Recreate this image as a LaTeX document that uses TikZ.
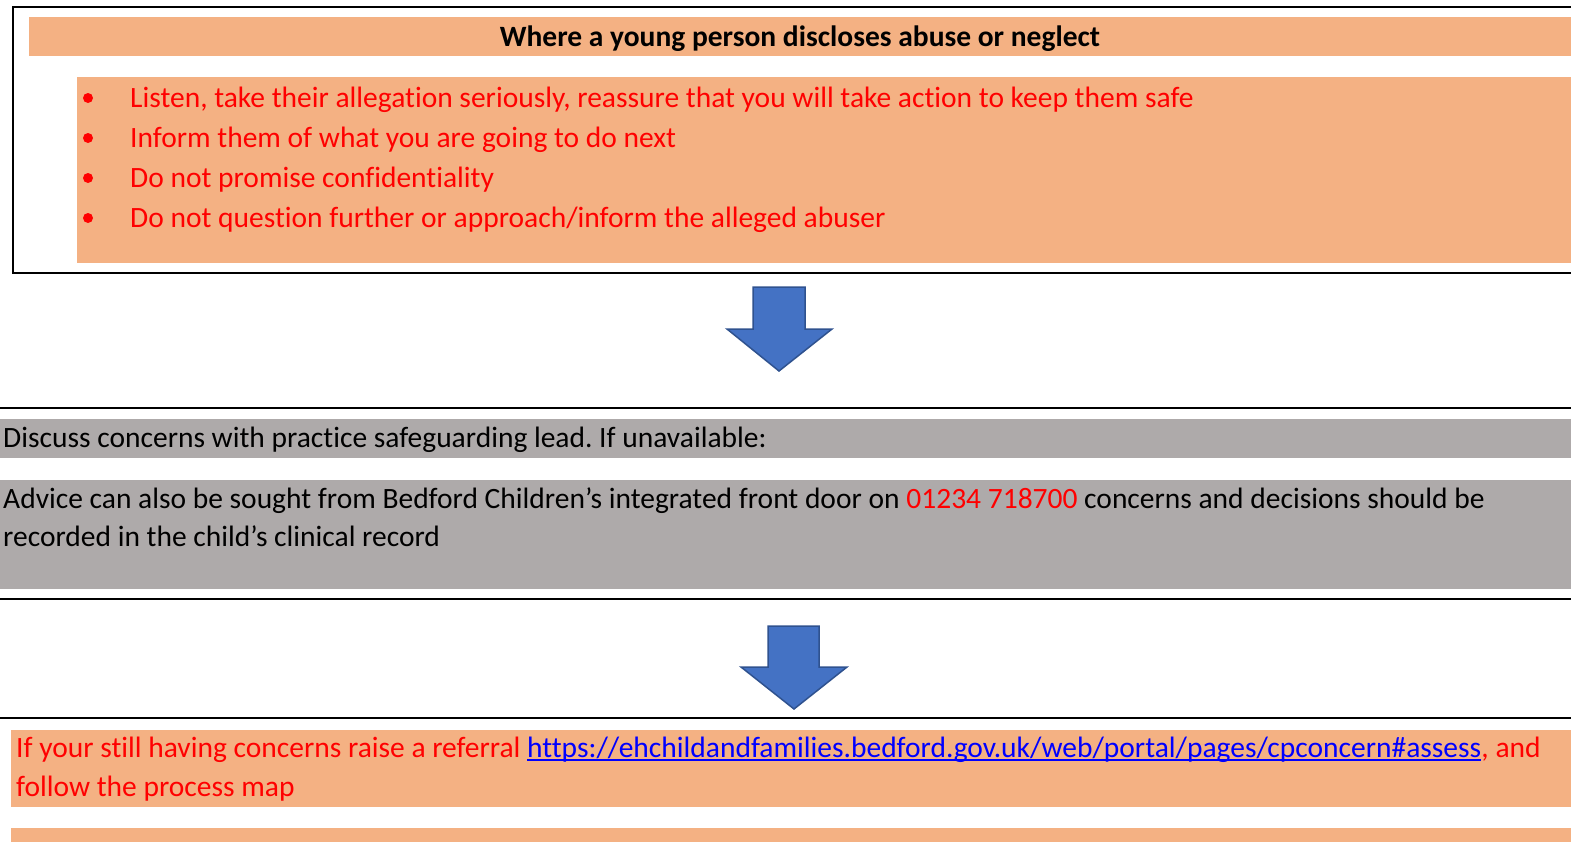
\documentclass[tikz,border=0pt]{standalone}
\usepackage{fontspec}
\setmainfont[Ligatures=NoCommon]{Carlito}
\usepackage{xcolor}
\usetikzlibrary{positioning, calc}
\definecolor{peach}{HTML}{F4B183}
\definecolor{greyband}{HTML}{AEAAAA}
\definecolor{arrowblue}{HTML}{4472C4}
\definecolor{arrowedge}{HTML}{2F528F}
\definecolor{linkblue}{HTML}{0000FF}
\newcommand\ulink[1]{\setbox0\hbox{#1}\rlap{\rule[-3.5pt]{\wd0}{1.4pt}}\box0}
\frenchspacing

\begin{document}
\begin{tikzpicture}[x=1pt, y=-1pt,
                    band/.style={rectangle, inner sep=0pt, outer sep=0pt, anchor=north west},
                    txt/.style={anchor=base west, inner sep=0pt, font=\fontsize{29.5}{34}\selectfont},
                    redtxt/.style={txt, text=red},
                    dot/.style={circle, fill=red, inner sep=0pt, minimum size=10pt},
                    blockarrow/.style={fill=arrowblue, draw=arrowedge, line width=1.5pt, line join=miter},
                    rulebar/.style={line width=2pt}]
                    \useasboundingbox (0,0) rectangle (1571,841);
                    \clip (0,0) rectangle (1571,841);

                    % Top box with the disclosure steps
                    \node[band, draw, line width=2.5pt, minimum width=1600pt, minimum height=266pt] (outer) at (13,7) {};
                    \node[band, fill=peach, minimum width=1560pt, minimum height=39pt] (head) at (29,17) {};
                    \node[txt, anchor=base, font=\fontsize{29.5}{34}\selectfont\bfseries] (headtxt) at (800,46) {Where a young person discloses abuse or neglect};
                    \node[band, fill=peach, minimum width=1540pt, minimum height=186pt] (steps) at (77,77) {};
                    \foreach \t [count=\i] in {{Listen, take their allegation seriously, reassure that you will take action to keep them safe},
                                               {Inform them of what you are going to do next},
                                               {Do not promise confidentiality},
                                               {Do not question further or approach/inform the alleged abuser}} {
                        \node[dot] (b\i) at (88,58+40*\i) {};
                        \node[redtxt] (s\i) at (130,67+40*\i) {\t};
                    }

                    % First block arrow
                    \draw[blockarrow] (753,287) -- (805,287) -- (805,329) -- (832,329) -- (779,371) -- (727,329) -- (753,329) -- cycle;

                    % Grey section: who to talk to
                    \draw[rulebar] (0,408) coordinate (r1a) -- (1571,408) coordinate (r1b);
                    \node[band, fill=greyband, minimum width=1571pt, minimum height=39pt] (discuss) at (0,419) {};
                    \node[txt] (discusstxt) at (3,447) {Discuss concerns with practice safeguarding lead. If unavailable:};
                    \node[band, fill=greyband, minimum width=1571pt, minimum height=109pt] (advice) at (0,480) {};
                    \node[txt] (advice1) at (3,508) {Advice can also be sought from Bedford Children’s integrated front door on \textcolor{red}{01234 718700} concerns and decisions should be};
                    \node[txt] (advice2) at (3,546) {recorded in the child’s clinical record};
                    \draw[rulebar] (0,599) coordinate (r2a) -- (1571,599) coordinate (r2b);

                    % Second block arrow
                    \draw[blockarrow] (768,626) -- (819,626) -- (819,667) -- (847,667) -- (794,709) -- (741,667) -- (768,667) -- cycle;

                    % Referral section
                    \draw[rulebar] (0,718) coordinate (r3a) -- (1571,718) coordinate (r3b);
                    \node[band, fill=peach, minimum width=1560pt, minimum height=77pt] (refer) at (11,730) {};
                    \node[redtxt] (refer1) at (16,757) {If your still having concerns raise a referral \textcolor{linkblue}{\ulink{https://ehchildandfamilies.bedford.gov.uk/web/portal/pages/cpconcern\#assess}}, and};
                    \node[redtxt] (refer2) at (16,796) {follow the process map};
                    \node[band, fill=peach, minimum width=1560pt, minimum height=20pt] (next) at (11,828) {};

                \end{tikzpicture}
\end{document}
